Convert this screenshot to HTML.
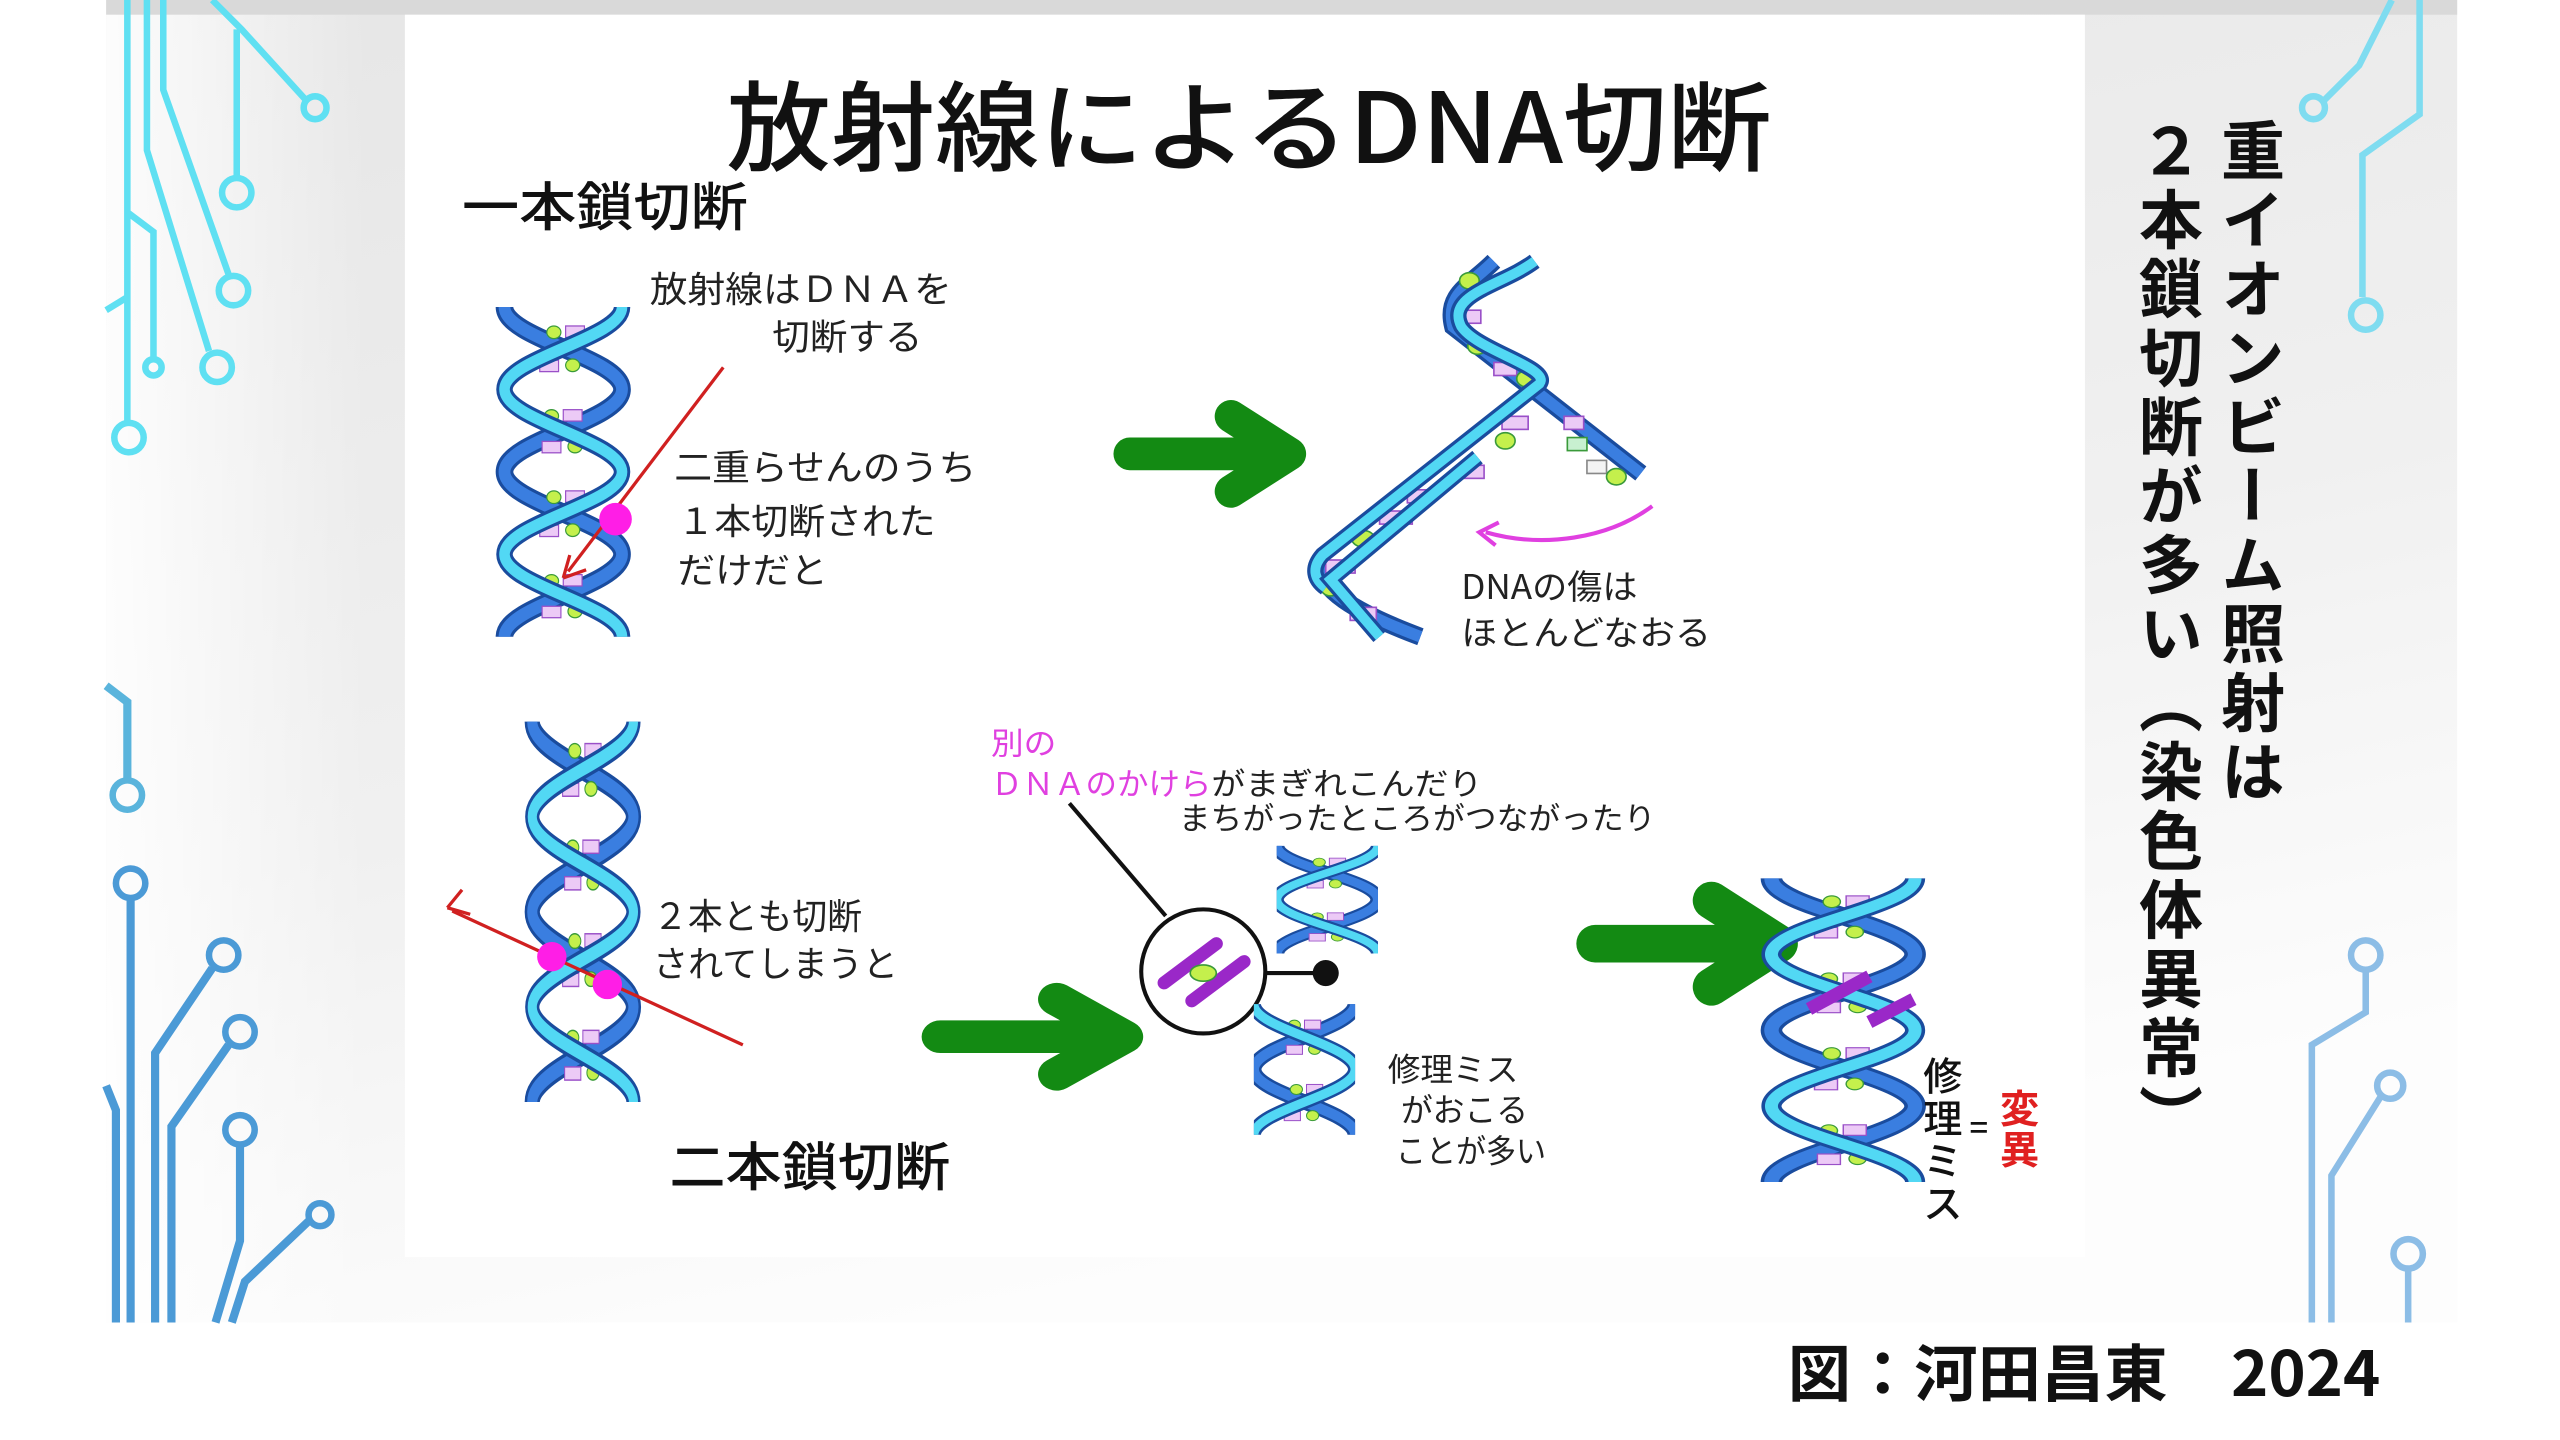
<!DOCTYPE html>
<html><head><meta charset="utf-8"><style>
html,body{margin:0;padding:0;background:#fff;}
body{width:2560px;height:1440px;position:relative;overflow:hidden;font-family:"Liberation Sans","Noto Sans CJK JP",sans-serif;}
svg.main{position:absolute;left:0;top:0;}
.vt{position:absolute;left:2130px;top:118px;writing-mode:vertical-rl;font-family:"Noto Sans CJK JP",sans-serif;font-weight:700;font-size:64px;line-height:82px;color:#111;letter-spacing:5px;}
</style></head><body>
<svg class="main" width="2560" height="1440" viewBox="0 0 1568 882" xmlns="http://www.w3.org/2000/svg" font-family="'Noto Sans CJK JP', sans-serif">
<defs>
<linearGradient id="bg" x1="0" y1="0" x2="0.35" y2="1">
<stop offset="0" stop-color="#e6e6e6"/><stop offset="0.6" stop-color="#f0f0f0"/><stop offset="1" stop-color="#fdfdfd"/>
</linearGradient>
<linearGradient id="edgeL" x1="0" y1="0" x2="1" y2="0"><stop offset="0" stop-color="#fff" stop-opacity="0.9"/><stop offset="1" stop-color="#fff" stop-opacity="0"/></linearGradient>
<g id="bases">
<g stroke-width="1">
<ellipse cx="42" cy="20" rx="6" ry="5" fill="#c4f04c" stroke="#3a9a3a"/><rect x="52" y="15" width="16" height="9" fill="#eccaf6" stroke="#9a50c8"/>
<rect x="30" y="42" width="16" height="9" fill="#eccaf6" stroke="#9a50c8"/><ellipse cx="58" cy="46" rx="6" ry="5" fill="#c4f04c" stroke="#3a9a3a"/>
<ellipse cx="40" cy="86" rx="6" ry="5" fill="#c4f04c" stroke="#3a9a3a"/><rect x="50" y="81" width="16" height="9" fill="#eccaf6" stroke="#9a50c8"/>
<rect x="32" y="106" width="16" height="9" fill="#eccaf6" stroke="#9a50c8"/><ellipse cx="60" cy="110" rx="6" ry="5" fill="#c4f04c" stroke="#3a9a3a"/>
<ellipse cx="42" cy="150" rx="6" ry="5" fill="#c4f04c" stroke="#3a9a3a"/><rect x="52" y="145" width="16" height="9" fill="#eccaf6" stroke="#9a50c8"/>
<rect x="30" y="172" width="16" height="9" fill="#eccaf6" stroke="#9a50c8"/><ellipse cx="58" cy="176" rx="6" ry="5" fill="#c4f04c" stroke="#3a9a3a"/>
<ellipse cx="40" cy="216" rx="6" ry="5" fill="#c4f04c" stroke="#3a9a3a"/><rect x="50" y="211" width="16" height="9" fill="#eccaf6" stroke="#9a50c8"/>
<rect x="32" y="236" width="16" height="9" fill="#eccaf6" stroke="#9a50c8"/><ellipse cx="60" cy="240" rx="6" ry="5" fill="#c4f04c" stroke="#3a9a3a"/>
</g></g>
<symbol id="hx" viewBox="0 0 100 260" preserveAspectRatio="none" overflow="visible">
<g fill="none" stroke-linecap="butt">
<path d="M0,0 C0,25 100,40 100,65 C100,90 0,105 0,130 C0,155 100,170 100,195 C100,220 0,235 0,260" stroke="#1a4c9e" stroke-width="15"/>
<path d="M0,0 C0,25 100,40 100,65 C100,90 0,105 0,130 C0,155 100,170 100,195 C100,220 0,235 0,260" stroke="#3a7ee0" stroke-width="10"/>
<use href="#bases"/>
<path d="M100,0 C100,25 0,40 0,65 C0,90 100,105 100,130 C100,155 0,170 0,195 C0,220 100,235 100,260" stroke="#1a4c9e" stroke-width="14"/>
<path d="M100,0 C100,25 0,40 0,65 C0,90 100,105 100,130 C100,155 0,170 0,195 C0,220 100,235 100,260" stroke="#52d8f4" stroke-width="9"/>
</g></symbol>
<g id="garrow"><path d="M0,0 L95,0 M62,-23 L98,0 L62,23" fill="none" stroke="#138a13" stroke-width="20" stroke-linecap="round" stroke-linejoin="round"/></g>
</defs>

<rect x="65" y="0" width="1440" height="810" fill="url(#bg)"/>
<rect x="65" y="0" width="160" height="810" fill="url(#edgeL)"/>
<rect x="65" y="0" width="1440" height="9" fill="#d9d9d9"/>

<g fill="none" stroke="#5fe0f2" stroke-width="4">
<path d="M130,0 L148,18 L188,62"/><circle cx="193" cy="66" r="7"/>
<path d="M145,18 L145,110"/><circle cx="145" cy="118" r="9"/>
<path d="M100,0 L100,55 L140,168"/><circle cx="143" cy="178" r="9"/>
<path d="M90,0 L90,92 L128,215"/><circle cx="133" cy="225" r="9"/>
<path d="M78,0 L78,258"/><circle cx="79" cy="268" r="9"/>
<path d="M78,130 L94,142 L94,220"/><circle cx="94" cy="225" r="5"/>
<path d="M65,190 L78,182"/>
</g>
<g fill="none" stroke="#4b9ad6" stroke-width="5">
<path d="M65,420 L78,430 L78,478" stroke="#5ab4dc"/><circle cx="78" cy="487" r="9" stroke-width="4" stroke="#5ab4dc"/>
<path d="M80,550 L80,810"/><circle cx="80" cy="541" r="9" stroke-width="4"/>
<path d="M130,593 L95,645 L95,810"/><circle cx="137" cy="585" r="9" stroke-width="4"/>
<path d="M140,640 L105,690 L105,810"/><circle cx="147" cy="632" r="9" stroke-width="4"/>
<path d="M147,701 L147,760 L132,810"/><circle cx="147" cy="692" r="9" stroke-width="4"/>
<path d="M189,748 L150,785 L142,810"/><circle cx="196" cy="744" r="7" stroke-width="4"/>
<path d="M65,665 L71,680 L71,810"/>
</g>
<g fill="none" stroke="#7fdcf0" stroke-width="4">
<path d="M1482,0 L1482,70 L1447,95 L1447,182"/><circle cx="1449" cy="193" r="9"/>
<path d="M1465,0 L1445,40 L1423,62"/><circle cx="1417" cy="66" r="7"/>
</g>
<g fill="none" stroke="#8cbde6" stroke-width="4">
<circle cx="1449" cy="585" r="9"/><path d="M1449,594 L1449,620 L1416,640 L1416,810"/>
<circle cx="1464" cy="665" r="8"/><path d="M1458,672 L1428,720 L1428,810"/>
<circle cx="1475" cy="768" r="9"/><path d="M1475,777 L1475,810"/>
</g>

<rect x="248" y="9" width="1029" height="761" fill="#fff"/>

<text x="445" y="100" font-size="60" font-weight="500" fill="#111" textLength="640" lengthAdjust="spacingAndGlyphs">放射線によるDNA切断</text>
<text x="283" y="138" font-size="32" font-weight="500" fill="#111" textLength="175" lengthAdjust="spacingAndGlyphs">一本鎖切断</text>

<use href="#hx" x="309" y="188" width="72" height="202"/>
<line x1="443" y1="225" x2="348" y2="350" stroke="#d02020" stroke-width="2"/>
<path d="M345,354 L349,340 M345,354 L359,349" stroke="#d02020" stroke-width="2" fill="none"/>
<circle cx="377" cy="318" r="10" fill="#ff1ee6"/>
<g font-size="22" fill="#222" font-weight="400">
<text x="398" y="185" textLength="185" lengthAdjust="spacingAndGlyphs">放射線はＤＮＡを</text>
<text x="473" y="214" textLength="92" lengthAdjust="spacingAndGlyphs">切断する</text>
<text x="413" y="294" textLength="185" lengthAdjust="spacingAndGlyphs">二重らせんのうち</text>
<text x="415" y="327" textLength="158" lengthAdjust="spacingAndGlyphs">１本切断された</text>
<text x="415" y="357" textLength="92" lengthAdjust="spacingAndGlyphs">だけだと</text>
</g>

<use href="#garrow" transform="translate(692,278)"/>

<g fill="none">
<path d="M915,160 C900,175 885,180 890,200 L1005,290" stroke="#1a4c9e" stroke-width="11"/>
<path d="M915,160 C900,175 885,180 890,200 L1005,290" stroke="#3a7ee0" stroke-width="7"/>
<path d="M810,345 C805,360 830,375 870,390" stroke="#1a4c9e" stroke-width="11"/>
<path d="M810,345 C805,360 830,375 870,390" stroke="#3a7ee0" stroke-width="7"/>
<g stroke-width="1">
<ellipse cx="900" cy="172" rx="6" ry="5" fill="#c4f04c" stroke="#3a9a3a"/><rect x="893" y="190" width="14" height="8" fill="#eccaf6" stroke="#9a50c8"/>
<ellipse cx="905" cy="212" rx="6" ry="5" fill="#c4f04c" stroke="#3a9a3a"/><rect x="915" y="222" width="14" height="8" fill="#eccaf6" stroke="#9a50c8"/>
<ellipse cx="935" cy="232" rx="6" ry="5" fill="#c4f04c" stroke="#3a9a3a"/>
<rect x="920" y="255" width="16" height="8" fill="#eccaf6" stroke="#9a50c8"/><rect x="958" y="255" width="12" height="8" fill="#eccaf6" stroke="#9a50c8"/>
<ellipse cx="922" cy="270" rx="6" ry="5" fill="#c4f04c" stroke="#3a9a3a"/><rect x="960" y="268" width="12" height="8" fill="#c8f0d0" stroke="#3a9a3a"/>
<rect x="895" y="285" width="14" height="8" fill="#eccaf6" stroke="#9a50c8"/><rect x="972" y="282" width="12" height="8" fill="#f4f4f4" stroke="#888"/>
<ellipse cx="990" cy="292" rx="6" ry="5" fill="#c4f04c" stroke="#3a9a3a"/>
<rect x="862" y="300" width="14" height="8" fill="#eccaf6" stroke="#9a50c8"/>
<rect x="845" y="313" width="20" height="8" fill="#eccaf6" stroke="#9a50c8"/>
<ellipse cx="835" cy="330" rx="7" ry="5" fill="#c4f04c" stroke="#3a9a3a"/>
<rect x="812" y="343" width="18" height="8" fill="#eccaf6" stroke="#9a50c8"/>
<ellipse cx="815" cy="360" rx="6" ry="5" fill="#c4f04c" stroke="#3a9a3a"/><rect x="827" y="372" width="16" height="8" fill="#eccaf6" stroke="#9a50c8"/>
</g>
<path d="M940,160 C920,175 885,180 895,200 C905,215 950,225 943,235 L810,340 C803,348 805,355 812,360" stroke="#1a4c9e" stroke-width="10"/>
<path d="M940,160 C920,175 885,180 895,200 C905,215 950,225 943,235 L810,340 C803,348 805,355 812,360" stroke="#52d8f4" stroke-width="6"/>
<path d="M905,280 L815,355 L845,390" stroke="#1a4c9e" stroke-width="10"/>
<path d="M905,280 L815,355 L845,390" stroke="#52d8f4" stroke-width="6"/>
</g>
<path d="M1012,310 C985,330 945,336 910,326" fill="none" stroke="#e040e0" stroke-width="2.5"/>
<path d="M918,320 L906,326 L916,334" fill="none" stroke="#e040e0" stroke-width="2.5"/>
<g font-size="21" fill="#222">
<text x="895" y="367" textLength="108" lengthAdjust="spacingAndGlyphs">DNAの傷は</text>
<text x="895" y="395" textLength="153" lengthAdjust="spacingAndGlyphs">ほとんどなおる</text>
</g>

<use href="#hx" x="326" y="442" width="62" height="233"/>
<line x1="455" y1="640" x2="277" y2="558" stroke="#d02020" stroke-width="2"/>
<path d="M274,556 L283,545 M274,556 L288,560" stroke="#d02020" stroke-width="2" fill="none"/>
<circle cx="338" cy="586" r="9" fill="#ff1ee6"/>
<circle cx="372" cy="603" r="9" fill="#ff1ee6"/>
<g font-size="22" fill="#222">
<text x="400" y="569" textLength="128" lengthAdjust="spacingAndGlyphs">２本とも切断</text>
<text x="400" y="598" textLength="150" lengthAdjust="spacingAndGlyphs">されてしまうと</text>
</g>
<text x="410" y="726" font-size="32" font-weight="500" fill="#111" textLength="172" lengthAdjust="spacingAndGlyphs">二本鎖切断</text>

<use href="#garrow" transform="translate(576,635) scale(1.15,1)"/>

<g font-size="19">
<text x="607" y="462" fill="#e040e0" textLength="40" lengthAdjust="spacingAndGlyphs">別の</text>
<text x="607" y="487" fill="#e040e0" textLength="135" lengthAdjust="spacingAndGlyphs">ＤＮＡのかけら</text>
<text x="742" y="487" fill="#222" textLength="166" lengthAdjust="spacingAndGlyphs">がまぎれこんだり</text>
<text x="722" y="508" fill="#222" textLength="292" lengthAdjust="spacingAndGlyphs">まちがったところがつながったり</text>
</g>
<line x1="655" y1="492" x2="714" y2="561" stroke="#111" stroke-width="2.5"/>
<circle cx="737" cy="595" r="38" fill="#fff" stroke="#111" stroke-width="2.5"/>
<g stroke="#9a28c8" stroke-width="8" stroke-linecap="round">
<line x1="713" y1="602" x2="745" y2="578"/><line x1="730" y1="613" x2="762" y2="589"/>
</g>
<ellipse cx="737" cy="596" rx="8" ry="5" fill="#c4f04c" stroke="#3a9a3a"/>
<line x1="775" y1="596" x2="810" y2="596" stroke="#111" stroke-width="2.5"/>
<circle cx="812" cy="596" r="8" fill="#111"/>
<svg x="782" y="518" width="62" height="66" viewBox="0 0 100 130" preserveAspectRatio="none" overflow="hidden"><use href="#hx" x="0" y="0" width="100" height="260"/></svg>
<svg x="768" y="615" width="62" height="80" viewBox="0 0 100 130" preserveAspectRatio="none" overflow="hidden"><use href="#hx" x="0" y="-65" width="100" height="260"/></svg>
<g font-size="20" fill="#222">
<text x="850" y="662" textLength="80" lengthAdjust="spacingAndGlyphs">修理ミス</text>
<text x="858" y="687" textLength="78" lengthAdjust="spacingAndGlyphs">がおこる</text>
<text x="855" y="712" textLength="92" lengthAdjust="spacingAndGlyphs">ことが多い</text>
</g>

<use href="#garrow" transform="translate(977,578) scale(1.15,1.15)"/>

<use href="#hx" x="1085" y="538" width="88" height="186"/>
<g stroke="#9a28c8" stroke-width="8" stroke-linecap="butt">
<line x1="1108" y1="618" x2="1145" y2="598"/><line x1="1145" y1="626" x2="1172" y2="612"/>
</g>
<g font-size="24" fill="#111" text-anchor="middle" font-weight="500">
<text x="1190" y="668">修</text><text x="1190" y="694">理</text><text x="1190" y="720">ミ</text><text x="1190" y="746">ス</text>
<text x="1212" y="698" font-size="20">=</text>
</g>
<g font-size="24" fill="#e02020" text-anchor="middle" font-weight="700">
<text x="1237" y="688">変</text><text x="1237" y="713">異</text>
</g>

<text x="1095" y="855" font-size="38" font-weight="700" fill="#111" textLength="363" lengthAdjust="spacingAndGlyphs">図：河田昌東　2024</text>
</svg>
<div class="vt">重イオンビーム照射は<br>２本鎖切断が多い（染色体異常）</div>
</body></html>
